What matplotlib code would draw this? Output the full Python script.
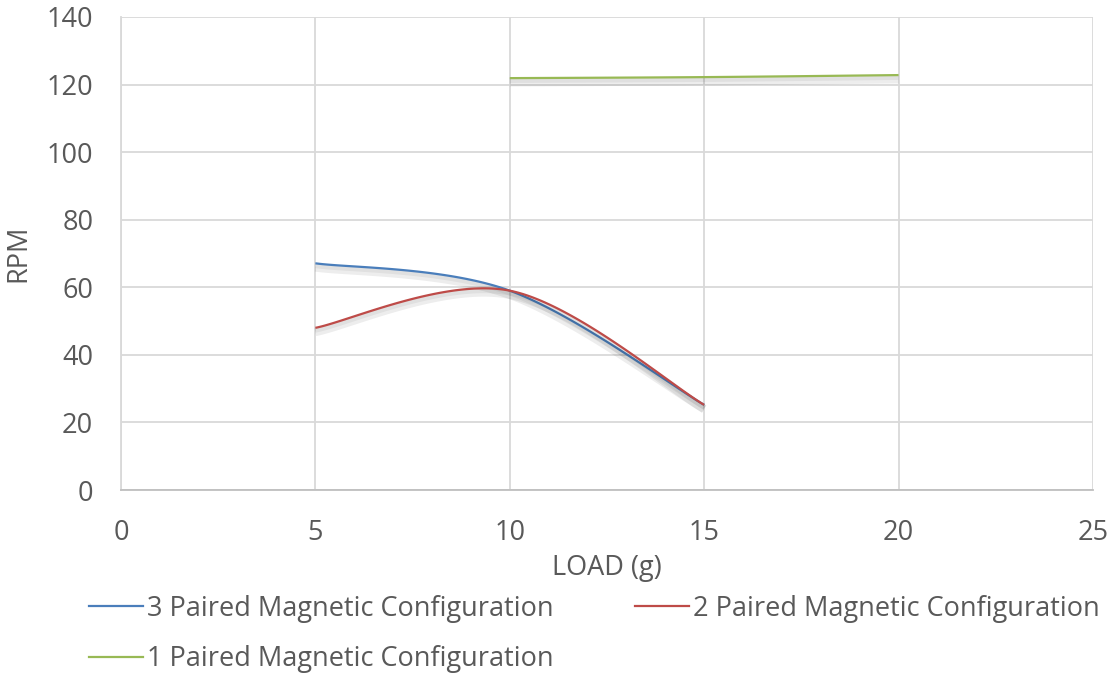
import numpy as np
import matplotlib
matplotlib.use("Agg")
import matplotlib.pyplot as plt
import matplotlib.patheffects as pe
from matplotlib.lines import Line2D

# data
load_3p = [5, 10, 15]
rpm_3p = [67.1, 59.0, 25.2]
load_2p = [5, 10, 15]
rpm_2p = [48.0, 59.0, 25.2]
load_1p = [10, 15, 20]
rpm_1p = [121.9, 122.2, 122.8]

names = ["3 Paired Magnetic Configuration",
         "2 Paired Magnetic Configuration",
         "1 Paired Magnetic Configuration"]
colors = ["#4a7ebb", "#be4b48", "#98b954"]


def smooth(xs, ys, n=60):
    # excel-like smoothed line: cubic bezier, catmull-rom style tangents
    p = np.column_stack([xs, ys]).astype(float)
    out = []
    for i in range(len(p) - 1):
        prev = p[i - 1] if i > 0 else p[i]
        nxt = p[i + 2] if i + 2 < len(p) else p[i + 1]
        c1 = p[i] + (p[i + 1] - prev) / 6.0
        c2 = p[i + 1] - (nxt - p[i]) / 6.0
        t = np.linspace(0, 1, n)[:, None]
        seg = ((1 - t) ** 3 * p[i] + 3 * (1 - t) ** 2 * t * c1
               + 3 * (1 - t) * t ** 2 * c2 + t ** 3 * p[i + 1])
        out.append(seg if i == 0 else seg[1:])
    out = np.vstack(out)
    return out[:, 0], out[:, 1]


plt.rcParams['font.family'] = ['Open Sans', 'DejaVu Sans']
txt = "#595959"
fs = 19.5

fig = plt.figure(figsize=(11.13, 6.76), dpi=100)
ax = fig.add_axes([0.1087, 0.2751, 0.8733, 0.6998])

shadow = [pe.SimpleLineShadow(offset=(0, -3), shadow_color='black', alpha=0.07, linewidth=6),
          pe.SimpleLineShadow(offset=(0, -2), shadow_color='black', alpha=0.05, linewidth=3),
          pe.Normal()]

series = [(load_3p, rpm_3p), (load_2p, rpm_2p), (load_1p, rpm_1p)]
for (xs, ys), c, nm in zip(series, colors, names):
    sx, sy = smooth(xs, ys)
    ax.plot(sx, sy, color=c, lw=1.6, label=nm, path_effects=shadow,
            solid_capstyle='butt', zorder=3)

ax.set_xlim(0, 25)
ax.set_ylim(0, 140)
ax.set_xticks(np.arange(0, 26, 5))
ax.set_yticks(np.arange(0, 141, 20))
ax.grid(True, color="#d9d9d9", lw=1.3)
ax.set_axisbelow(True)
for s in ['top', 'right']:
    ax.spines[s].set_visible(False)
ax.spines['left'].set_color("#d9d9d9")
ax.spines['bottom'].set_color("#bfbfbf")
ax.spines['left'].set_linewidth(1.3)
ax.spines['bottom'].set_linewidth(1.3)
ax.tick_params(length=0, labelsize=fs, labelcolor=txt)
ax.tick_params(axis='x', pad=21)
ax.tick_params(axis='y', pad=20)
ax.set_xlabel("LOAD (g)", fontsize=fs, color=txt, labelpad=5)
ax.set_ylabel("RPM", fontsize=fs, color=txt, labelpad=10)

handles = [Line2D([], [], color=c, lw=1.6) for c in colors]
order = [0, 2, 1]
fig.legend([handles[i] for i in order], [names[i] for i in order],
           loc='upper left', bbox_to_anchor=(0.08, 0.12), ncol=2,
           frameon=False, fontsize=fs, labelcolor=txt, handlelength=2.0,
           handletextpad=0.15, columnspacing=3.0, labelspacing=0.82,
           borderaxespad=0, borderpad=0)

fig.savefig("out.png", dpi=100)
